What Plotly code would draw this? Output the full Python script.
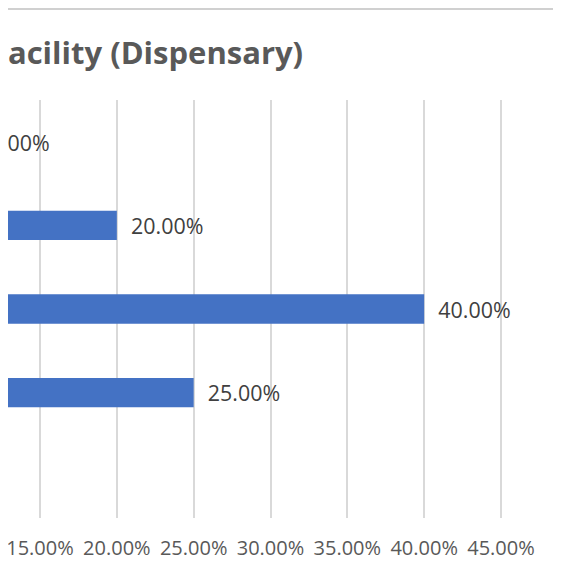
import plotly.graph_objects as go

# answer options, top to bottom (their labels sit off the left edge of the crop)
options = ['Option 1', 'Option 2', 'Option 3', 'Option 4', 'Option 5']
shares = [0.10, 0.20, 0.40, 0.25, 0.05]
tick_vals = [0.15, 0.20, 0.25, 0.30, 0.35, 0.40, 0.45]
title_text = 'Type of Health Facility (Dispensary)'

blue = '#4472C4'
grey_text = '#595959'
nbsp = '\u00a0'

fig = go.Figure()
fig.add_trace(go.Bar(
    x=shares, y=options, orientation='h',
    marker=dict(color=blue, line=dict(width=0)),
    text=[nbsp * 2 + f'{v:.2%}' for v in shares],
    textposition='outside',
    textfont=dict(family='Open Sans', size=22, color='#404040'),
    cliponaxis=True,
))

# page body has an 8px margin, so the figure is sized to fill the rest of the window
fig.update_layout(
    width=553, height=565,
    margin=dict(l=0, r=0, t=92, b=55),
    paper_bgcolor='white', plot_bgcolor='white',
    bargap=0.65,
    showlegend=False,
    xaxis=dict(range=[0.12917, 0.48905], tickvals=tick_vals, tickformat='.2%',
               showgrid=True, gridcolor='#d9d9d9', gridwidth=1.5,
               zeroline=False, showline=False, ticks='', automargin=False,
               ticklabelstandoff=16, ticklabeloverflow='allow',
               tickfont=dict(family='Open Sans', size=20, color=grey_text)),
    yaxis=dict(autorange='reversed', showticklabels=False, showgrid=False,
               zeroline=False, showline=False, automargin=False),
)

# chart title, cut off on the left like the crop
fig.add_annotation(text='<b>' + title_text + '</b>', xref='paper', yref='paper',
                   x=0.537, y=1.1148, xanchor='right', yanchor='middle',
                   showarrow=False, font=dict(family='Open Sans', size=31, color=grey_text))

# top border of the chart frame
fig.add_shape(type='line', xref='paper', yref='paper', x0=0, x1=1, y0=1.2177, y1=1.2177,
              line=dict(color='#d0d0d0', width=2))

fig.write_html('out.html')
